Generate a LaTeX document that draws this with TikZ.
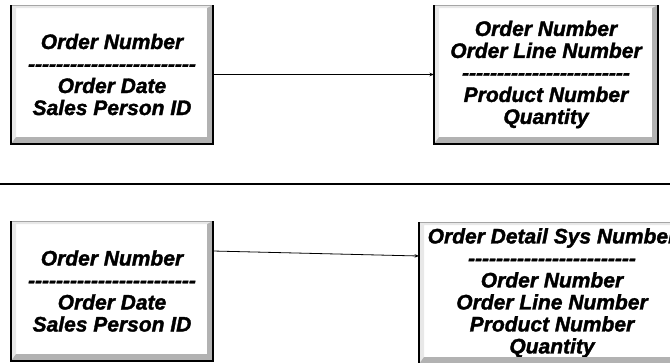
\documentclass[tikz,border=0pt]{standalone}
\usepackage{fontspec}
\setmainfont{Liberation Sans}
\newfontfamily\tblfont{Liberation Sans}[BoldItalicFeatures={FakeBold=1.6}]
\usepackage{tikz}
\usetikzlibrary{arrows.meta, positioning, calc}

% row of hyphens between key and non-key columns
\newcommand{\keyrule}{\foreach \k in {1,...,24}{-{}}}

% raised 3d edge round a table box
\newcommand{\bevel}[1]{%
  \fill[gray!18] (#1.south west) -- (#1.north west) -- (#1.north east)
    -- ([xshift=-6pt,yshift=-3pt]#1.north east) -- ([xshift=5pt,yshift=-3pt]#1.north west)
    -- ([xshift=5pt,yshift=7pt]#1.south west) -- cycle;
  \fill[gray!60] (#1.south west) -- (#1.south east) -- (#1.north east)
    -- ([xshift=-6pt,yshift=-3pt]#1.north east) -- ([xshift=-6pt,yshift=7pt]#1.south east)
    -- ([xshift=5pt,yshift=7pt]#1.south west) -- cycle;
  \draw[gray!70, line width=1pt] (#1.north west) -- (#1.north east);
  \draw[line width=1.3pt] (#1.north west) -- (#1.south west) -- (#1.south east) -- (#1.north east);
}

\begin{document}
\begin{tikzpicture}[x=1pt, y=-1pt,
    tbl/.style={fill=white, inner sep=0pt, outer sep=0pt, align=center,
                font=\tblfont\fontsize{21}{22}\selectfont\bfseries\itshape},
    link/.style={-{Stealth[length=4.5pt, width=3.5pt]}, line width=0.8pt}]
  \useasboundingbox (0,0) rectangle (670,362);
  \clip (0,0) rectangle (670,362);

  % first design
  \node[tbl, minimum width=202pt, minimum height=139pt] (orderA) at (112,74.5)
    {Order Number\\ \keyrule\\ Order Date\\ Sales Person ID};
  \node[tbl, minimum width=224pt, minimum height=139pt] (lineA) at (546,74.5)
    {Order Number\\ Order Line Number\\ \keyrule\\ Product Number\\ Quantity};
  \bevel{orderA}
  \bevel{lineA}
  \draw[link] (orderA.east) -- (lineA.west);

  \coordinate (sepL) at (0,184);
  \coordinate (sepR) at (670,184);
  \draw[line width=2pt] (sepL) -- (sepR);

  % second design
  \node[tbl, minimum width=202pt, minimum height=140pt] (orderB) at (112,291)
    {Order Number\\ \keyrule\\ Order Date\\ Sales Person ID};
  \node[tbl, minimum width=266pt, minimum height=142pt] (lineB) at (552,293)
    {Order Detail Sys Number\\ \keyrule\\ Order Number\\ Order Line Number\\ Product Number\\ Quantity};
  \bevel{orderB}
  \bevel{lineB}
  \draw[link] ([yshift=40pt]orderB.east) -- ([yshift=37pt]lineB.west);
\end{tikzpicture}
\end{document}
